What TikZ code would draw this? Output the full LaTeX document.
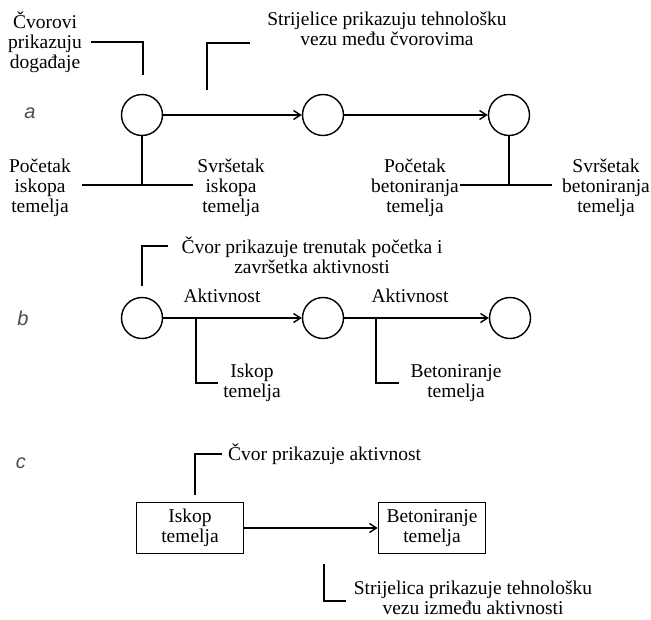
\documentclass[tikz,border=0pt]{standalone}
\usepackage{fontspec}
\setmainfont{Liberation Serif}
\setsansfont{Liberation Sans}
\usetikzlibrary{arrows.meta}
\begin{document}
\begin{tikzpicture}[x=1pt,y=-1pt,
  txt/.style={font=\fontsize{19.5}{20}\selectfont, align=center, inner sep=0pt},
  ev/.style={circle, draw, line width=1.4pt, minimum size=41pt, inner sep=0pt},
  actbox/.style={draw, line width=1.6pt, minimum width=107pt, minimum height=51pt, inner sep=0pt, align=center, font=\fontsize{19.5}{20}\selectfont},
  lead/.style={line width=1.5pt},
  arr/.style={line width=1.4pt, -{Straight Barb[length=7pt,width=9pt]}},
  panel/.style={font=\sffamily\itshape\fontsize{20}{22}\selectfont, text=black!70, inner sep=0pt}
]
\useasboundingbox (0,0) rectangle (651,620);

% ---------- panel a ----------
\node[panel] (la) at (30,113) {a};
\node[ev] (a1) at (142,115) {};
\node[ev] (a2) at (323,115) {};
\node[ev] (a3) at (509,115) {};
\draw[arr] (a1) -- (a2);
\draw[arr] (a2) -- (a3);

\node[txt] (t1) at (45,42) {Čvorovi\\prikazuju\\događaje};
\coordinate (t1a) at (91,42);
\coordinate (t1b) at (143,42);
\coordinate (t1c) at (143,75);
\draw[lead] (t1a) -- (t1b) -- (t1c);

\node[txt] (t2) at (387,29) {Strijelice prikazuju tehnološku\\vezu među čvorovima};
\coordinate (t2a) at (207,90);
\coordinate (t2b) at (207,43);
\coordinate (t2c) at (250,43);
\draw[lead] (t2a) -- (t2b) -- (t2c);

\coordinate (a1d) at (142,185);
\coordinate (a1l) at (82,185);
\coordinate (a1r) at (193,185);
\draw[lead] (a1.south) -- (a1d);
\draw[lead] (a1l) -- (a1r);
\node[txt] (pa1) at (40,188) {Početak\\iskopa\\temelja};
\node[txt] (sa1) at (231,188) {Svršetak\\iskopa\\temelja};

\coordinate (a3d) at (509,185);
\coordinate (a3l) at (460,185);
\coordinate (a3r) at (552,185);
\draw[lead] (a3.south) -- (a3d);
\draw[lead] (a3l) -- (a3r);
\node[txt] (pa3) at (415,188) {Početak\\betoniranja\\temelja};
\node[txt] (sa3) at (606,188) {Svršetak\\betoniranja\\temelja};

% ---------- panel b ----------
\node[panel] (lb) at (23,318) {b};
\node[ev] (b1) at (142,318) {};
\node[ev] (b2) at (323,318) {};
\node[ev] (b3) at (510,318) {};
\draw[arr] (b1) -- (b2);
\draw[arr] (b2) -- (b3);
\node[txt] (ak1) at (222,296) {Aktivnost};
\node[txt] (ak2) at (410,296) {Aktivnost};

\node[txt] (tb) at (312,255) {Čvor prikazuje trenutak početka i\\završetka aktivnosti};
\coordinate (tba) at (142,286);
\coordinate (tbb) at (142,246);
\coordinate (tbc) at (168,246);
\draw[lead] (tba) -- (tbb) -- (tbc);

\coordinate (ib1) at (196,318);
\coordinate (ib2) at (196,383);
\coordinate (ib3) at (218,383);
\draw[lead] (ib1) -- (ib2) -- (ib3);
\node[txt] (ik) at (252,383) {Iskop\\temelja};

\coordinate (bb1) at (376,318);
\coordinate (bb2) at (376,383);
\coordinate (bb3) at (399,383);
\draw[lead] (bb1) -- (bb2) -- (bb3);
\node[txt] (bt) at (456,383) {Betoniranje\\temelja};

% ---------- panel c ----------
\node[panel] (lc) at (21,463) {c};
\node[actbox] (c1) at (190,528) {Iskop\\temelja};
\node[actbox] (c2) at (432,528) {Betoniranje\\temelja};
\draw[arr] (c1) -- (c2);

\node[txt, anchor=west] (tc1) at (228,454) {Čvor prikazuje aktivnost};
\coordinate (tc1a) at (195,495);
\coordinate (tc1b) at (195,454);
\coordinate (tc1c) at (222,454);
\draw[lead] (tc1a) -- (tc1b) -- (tc1c);

\node[txt] (tc2) at (473,598) {Strijelica prikazuje tehnološku\\vezu između aktivnosti};
\coordinate (tc2a) at (324,564);
\coordinate (tc2b) at (324,601);
\coordinate (tc2c) at (346,601);
\draw[lead] (tc2a) -- (tc2b) -- (tc2c);
\end{tikzpicture}
\end{document}
